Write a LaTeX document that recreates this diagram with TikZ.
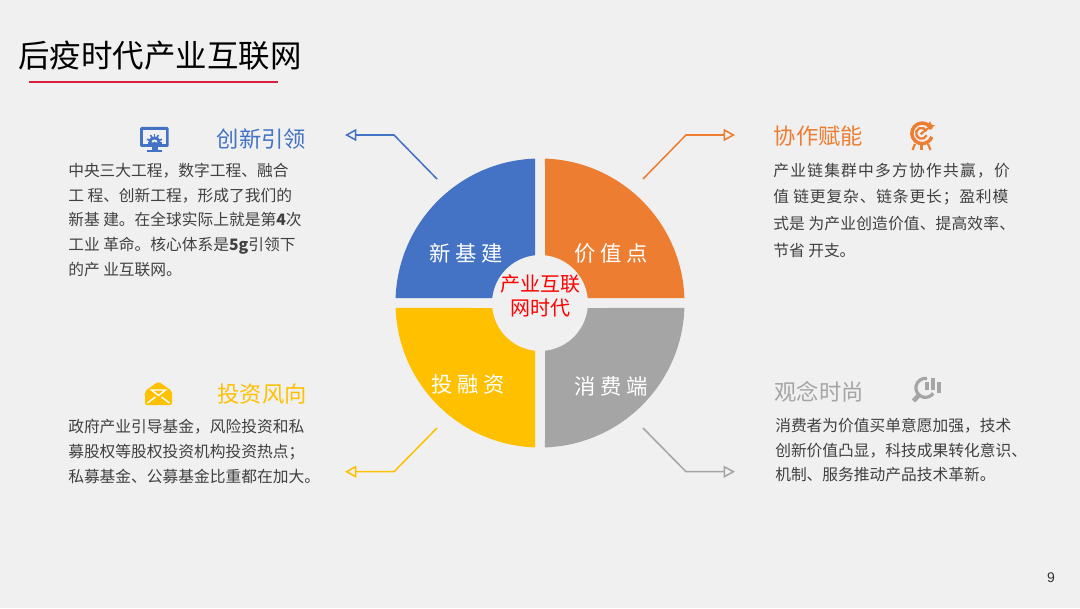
\documentclass[tikz,border=0pt]{standalone}
\usepackage{fontspec}
\setmainfont{Noto Sans CJK SC}
\newfontfamily\pagefont{Liberation Sans}
\usetikzlibrary{arrows.meta}

\definecolor{pageback}{HTML}{F0F0F0}
\definecolor{blueQ}{HTML}{4472C4}
\definecolor{orangeQ}{HTML}{ED7D31}
\definecolor{goldQ}{HTML}{FFC000}
\definecolor{grayQ}{HTML}{A5A5A5}
\definecolor{bodyink}{HTML}{404040}
\definecolor{titleline}{HTML}{D8203C}

\begin{document}
\begin{tikzpicture}[x=0.75pt, y=0.75pt, >={Triangle[open, length=8.5pt, width=9pt]},
    bodytext/.style={anchor=west, inner sep=0pt, align=left, text=bodyink, font=\fontsize{11.8}{18.4}\selectfont},
    headtext/.style={inner sep=0pt, font=\fontsize{16.7}{20}\selectfont},
    quadtext/.style={inner sep=0pt, text=white, font=\fontsize{16}{20}\selectfont},
    armline/.style={->, line width=1.15pt}]
    % ================= Parameters =================
    \def\R{144.5}      % Outer radius of the disc
    \def\r{48}         % Inner radius of the disc

    % Page
    \fill[pageback] (0,0) rectangle (1080,608);
    \path[use as bounding box] (0,0) rectangle (1080,608);

    % ================= Title =================
    \node[anchor=west, inner sep=0pt, font=\fontsize{23.6}{26}\selectfont] (titletext) at (18,552) {后疫时代产业互联网};

    % ================= Disc =================
    \begin{scope}[shift={(540,305)}]
        \foreach \ang/\col in {90/blueQ, 0/orangeQ, 180/goldQ, 270/grayQ}
            \fill[\col] (\ang+1.98:\R) arc[start angle=\ang+1.98, end angle=\ang+88.02, radius=\R]
                -- (\ang+84.02:\r) arc[start angle=\ang+84.02, end angle=\ang+5.98, radius=\r] -- cycle;
    \end{scope}

    \node[quadtext] (xinjijian) at (466,355) {新 基 建};
    \node[quadtext] (jiazhidian) at (611,355) {价 值 点};
    \node[quadtext] (tourongzi) at (468,224) {投 融 资};
    \node[quadtext] (xiaofeiduan) at (611,222) {消 费 端};
    \node[inner sep=0pt, align=center, text=red, font=\fontsize{15}{18}\selectfont] (centertext) at (540.5,312) {产业互联\\网时代};

    % ================= Arms =================
    \coordinate (blueStart) at (437,429);
    \coordinate (blueBend) at (394,473);
    \coordinate (blueTip) at (345,473);
    \coordinate (orangeStart) at (643,429);
    \coordinate (orangeBend) at (686,473);
    \coordinate (orangeTip) at (735,473);
    \coordinate (goldStart) at (437,180);
    \coordinate (goldBend) at (394,136.3);
    \coordinate (goldTip) at (345,136.3);
    \coordinate (grayStart) at (643,180);
    \coordinate (grayBend) at (686,136.3);
    \coordinate (grayTip) at (735,136.3);

    \draw[armline, blueQ] (blueStart) -- (blueBend) -- (blueTip);
    \draw[armline, orangeQ] (orangeStart) -- (orangeBend) -- (orangeTip);
    \draw[armline, goldQ] (goldStart) -- (goldBend) -- (goldTip);
    \draw[armline, grayQ] (grayStart) -- (grayBend) -- (grayTip);

    % ================= Headings =================
    \node[headtext, text=blueQ] (blueHead) at (261.5,469) {创新引领};
    \node[headtext, text=orangeQ] (orangeHead) at (818.5,472) {协作赋能};
    \node[headtext, text=goldQ] (goldHead) at (262,214) {投资风向};
    \node[headtext, text=grayQ] (grayHead) at (819,216) {观念时尚};

    % ================= Body text =================
    \node[bodytext] (blueBody) at (68,388) {中央三大工程，数字工程、融合\\工 程、创新工程，形成了我们的\\新基 建。在全球实际上就是第\textbf{4}次\\工业 革命。核心体系是\textbf{5g}引领下\\的产 业互联网。};
    \node[bodytext, font=\fontsize{11.8}{20}\selectfont] (orangeBody) at (773,398) {{\addfontfeature{LetterSpace=8}产业链集群中多方协作共赢，价}\\{\addfontfeature{LetterSpace=5.5}值 链更复杂、链条更长；盈利模}\\{\addfontfeature{LetterSpace=1}式是 为产业创造价值、提高效率、}\\节省 开支。};
    \node[bodytext] (goldBody) at (68,156.5) {政府产业引导基金，风险投资和私\\募股权等股权投资机构投资热点；\\私募基金、公募基金比重都在加大。};
    \node[bodytext] (grayBody) at (775,158) {消费者为价值买单意愿加强，技术\\创新价值凸显，科技成果转化意识、\\机制、服务推动产品技术革新。};

    % ================= Icons =================
    % Monitor
    \fill[blueQ, rounded corners=1pt] (140,461) rectangle (168.7,481);
    \fill[pageback] (143,464) rectangle (166,478);
    \fill[blueQ] (147.5,465.5) rectangle (161.5,463.5);
    \fill[blueQ] (148.5,465.5) arc[start angle=180, end angle=0, radius=6];
    \foreach \ang in {20,60,90,120,160}
        \draw[blueQ, line width=1.2pt] (154.5,466) -- ++(\ang:8);
    \fill[pageback] (151.5,465.5) arc[start angle=180, end angle=0, radius=3];
    \fill[blueQ] (154.5,465) circle (1.4);
    \fill[blueQ] (151.5,456) rectangle (157.5,461);
    \fill[blueQ] (147,455.5) rectangle (162,458);

    % Target
    \draw[orangeQ, line width=2.6pt] (931.5,479) arc[start angle=25, end angle=340, radius=10.3];
    \draw[orangeQ, line width=1.7pt] (926.5,477) arc[start angle=25, end angle=340, radius=5.5];
    \fill[orangeQ] (921.5,474.5) circle (1.6);
    \draw[orangeQ, line width=1.5pt] (921.5,474.5) -- (931,482);
    \fill[orangeQ] (927.5,481) -- (930,487) -- (931.5,483.5) -- (935,482.5) -- (929.5,479) -- cycle;
    \draw[orangeQ, line width=1.6pt] (915,464) -- (912.5,458);
    \draw[orangeQ, line width=1.6pt] (921.5,463) -- (921.5,458);
    \draw[orangeQ, line width=1.6pt] (928,464) -- (930.5,458);

    % Magnifier
    \draw[grayQ, line width=2.4pt] (927,229.5) arc[start angle=80, end angle=325, radius=9.5];
    \draw[grayQ, line width=3.4pt] (919,213) -- (913.5,207);
    \fill[grayQ] (925,218) rectangle (929.3,226);
    \fill[grayQ] (931,218) rectangle (935,230);
    \fill[grayQ] (937,215) rectangle (941,226);

    % Envelope
    \fill[goldQ, rounded corners=1.5pt] (145,203) -- (145,217) -- (158.5,226.5) -- (172,217) -- (172,203) -- cycle;
    \draw[white, line width=1.1pt] (151.5,218) -- (165.5,218) -- (158.5,212.5) -- cycle;
    \draw[white, line width=1.1pt] (147.5,205) -- (155.5,211);
    \draw[white, line width=1.1pt] (169.5,205) -- (161.5,211);

    % Page number
    \node[inner sep=0pt, text=bodyink!80!black, font=\pagefont\fontsize{10.5}{12}\selectfont] (pagenumber) at (1051,30) {9};

    % Title rule
    \draw[draw=titleline, line width=1.25pt] (29,526.3) -- (278,526.3);
\end{tikzpicture}
\end{document}
